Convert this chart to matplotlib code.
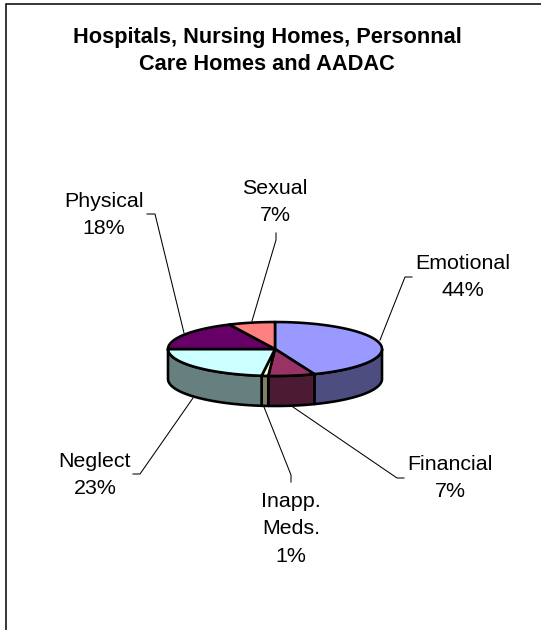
"""Hospitals, Nursing Homes, Personal Care Homes and AADAC - 3D style pie"""
import numpy as np
import matplotlib
matplotlib.use("Agg")
import matplotlib.pyplot as plt
from matplotlib.patches import Polygon

title = "Hospitals, Nursing Homes, Personnal\nCare Homes and AADAC"
categories = ["Emotional", "Financial", "Inapp.\nMeds.", "Neglect", "Physical", "Sexual"]
values = [44, 7, 1, 23, 18, 7]
top_colors = ["#9999FF", "#993366", "#FFFFCC", "#CCFFFF", "#660066", "#FF8080"]
side_colors = ["#4D4D80", "#4D1A33", "#808066", "#668080", "#330033", "#804040"]

# label centre and leader line, in image pixels
label_pos = [(463, 277), (450, 478), (291, 529), (95, 475), (104, 215), (275, 202)]
leaders = [
    [(412, 277), (405, 277), (380, 340)],
    [(404, 478), (397, 478), (293, 407)],
    [(291, 482), (291, 475), (264, 407)],
    [(133, 474), (140, 474), (193, 398)],
    [(147, 214), (155, 214), (184, 333)],
    [(276, 233), (276, 240), (252, 321)],
]

cx, cy = 275, 349
rx, ry = 107, 27
depth = 30
edge = 2.6 * 72 / 100


def rim(a0, a1):
    # angles in degrees, clockwise from 12 o'clock
    t = np.radians(np.linspace(a0, a1, max(int(abs(a1 - a0)) * 2, 2)))
    return np.column_stack([cx + rx * np.sin(t), cy - ry * np.cos(t)])


fig = plt.figure(figsize=(5.41, 6.30), dpi=100)
ax = fig.add_axes([0, 0, 1, 1])
ax.set_xlim(0, 541)
ax.set_ylim(630, 0)
ax.axis("off")

# chart frame, runs off the right and bottom of the image
ax.plot([5.5, 5.5, 545], [635, 3.5, 3.5], color="black", lw=1.1, solid_joinstyle="miter")

font = "Liberation Sans"
ax.text(267, 51, title, ha="center", va="center", fontsize=15.7, fontweight="bold",
        family=font, linespacing=1.42)

bounds = np.concatenate([[0], np.cumsum(values)]) * 360.0 / sum(values)

# walls of the front half
for i in range(len(values)):
    a0, a1 = max(bounds[i], 90), min(bounds[i + 1], 270)
    if a1 <= a0:
        continue
    arc = rim(a0, a1)
    wall = np.vstack([arc, arc[::-1] + [0, depth]])
    ax.add_patch(Polygon(wall, closed=True, facecolor=side_colors[i], edgecolor="black",
                         lw=edge, joinstyle="round", zorder=2))

# top face
for i in range(len(values)):
    pts = np.vstack([[cx, cy], rim(bounds[i], bounds[i + 1])])
    ax.add_patch(Polygon(pts, closed=True, facecolor=top_colors[i], edgecolor="black",
                         lw=edge, joinstyle="round", zorder=3))

for i, name in enumerate(categories):
    line = np.array(leaders[i])
    ax.plot(line[:, 0], line[:, 1], color="black", lw=0.75, zorder=1)
    x, y = label_pos[i]
    ax.text(x, y, f"{name}\n{values[i]}%", ha="center", va="center", fontsize=15.4,
            family=font, linespacing=1.58)

fig.savefig("out.png", dpi=100)
